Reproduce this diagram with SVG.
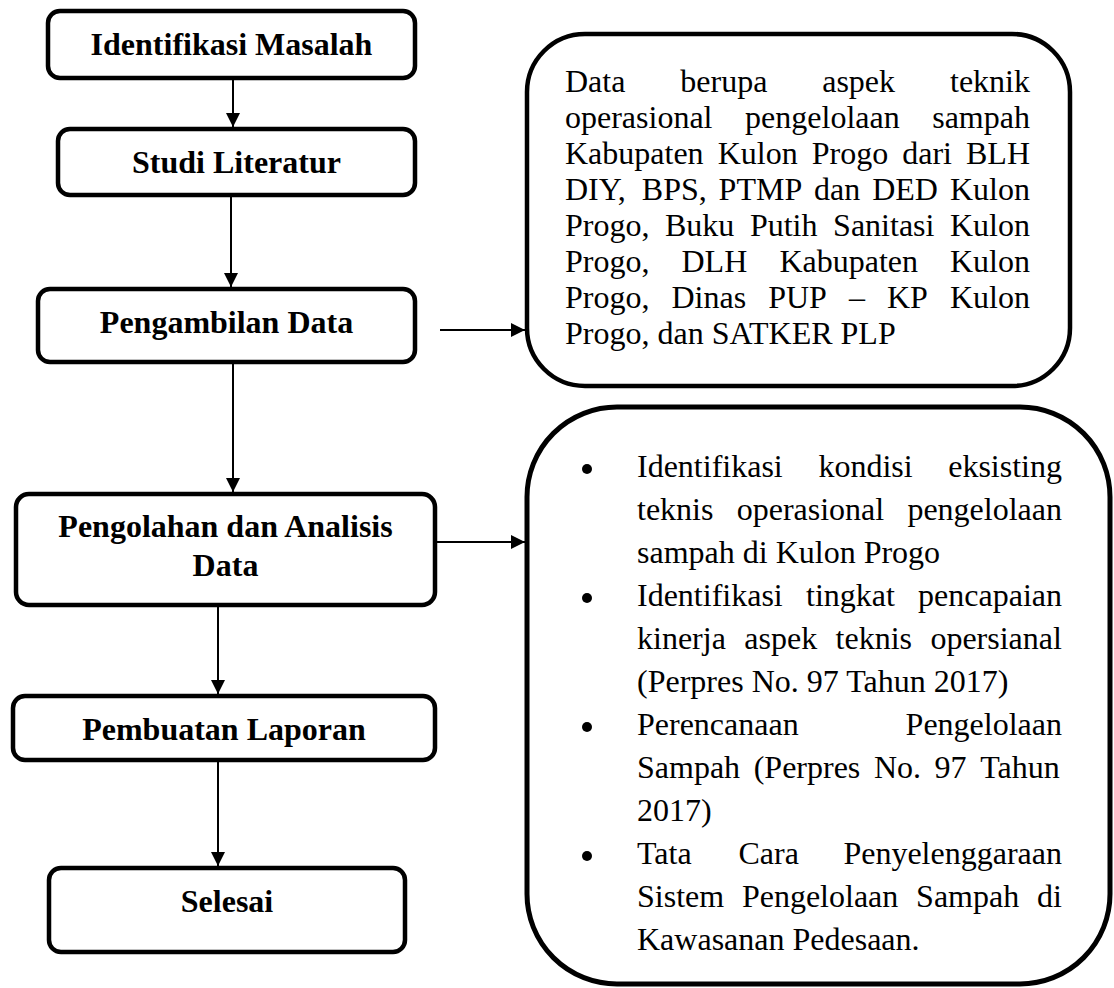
<svg xmlns="http://www.w3.org/2000/svg" width="1114" height="988" viewBox="0 0 1114 988">
<style>
.box{fill:#fff;stroke:#000;stroke-width:4.5}
.big{fill:#fff;stroke:#000;stroke-width:5}
.lbl{font-family:"Liberation Serif","Times New Roman",serif;font-size:32px;font-weight:bold;text-anchor:middle;fill:#000}
.txt{font-family:"Liberation Serif","Times New Roman",serif;font-size:32px;fill:#000}
.dot{fill:#000}
.con{stroke:#000;stroke-width:2;fill:none;marker-end:url(#ah)}
</style>
<defs>
<marker id="ah" markerUnits="userSpaceOnUse" markerWidth="14" markerHeight="14" refX="14" refY="7" orient="auto">
<path d="M0,0 L14,7 L0,14 z" fill="#000"/>
</marker>
</defs>
<rect width="1114" height="988" fill="#fff"/>
<g id="connectors">
<line class="con" x1="233" y1="80" x2="233" y2="127"/>
<line class="con" x1="231" y1="197" x2="231" y2="287"/>
<line class="con" x1="233" y1="364" x2="233" y2="492"/>
<line class="con" x1="218" y1="606" x2="218" y2="694"/>
<line class="con" x1="218" y1="762" x2="218" y2="866"/>
<line class="con" x1="440" y1="330" x2="525" y2="330"/>
<line class="con" x1="437" y1="542" x2="525" y2="542"/>
</g>
<g id="n1"><rect class="box" x="48" y="11" width="367" height="67" rx="12"/><text class="lbl" x="231.5" y="55">Identifikasi Masalah</text></g>
<g id="n2"><rect class="box" x="58" y="129" width="357" height="66" rx="12"/><text class="lbl" x="236.5" y="173">Studi Literatur</text></g>
<g id="n3"><rect class="box" x="38" y="289" width="377" height="73" rx="12"/><text class="lbl" x="226.5" y="333">Pengambilan Data</text></g>
<g id="n4"><rect class="box" x="16" y="494" width="419" height="111" rx="13"/><text class="lbl" x="225.5" y="537">Pengolahan dan Analisis</text><text class="lbl" x="225.5" y="576">Data</text></g>
<g id="n5"><rect class="box" x="13" y="696" width="422" height="64" rx="12"/><text class="lbl" x="224" y="740">Pembuatan Laporan</text></g>
<g id="n6"><rect class="box" x="49" y="868" width="356" height="84" rx="12"/><text class="lbl" x="227" y="912">Selesai</text></g>
<g id="data">
<rect class="box" x="527" y="34" width="543" height="352" rx="58"/>
<text class="txt"><tspan x="565" y="92">Data</tspan><tspan x="680.3" y="92">berupa</tspan><tspan x="822.2" y="92">aspek</tspan><tspan x="950" y="92">teknik</tspan></text>
<text class="txt"><tspan x="565" y="128">operasional</tspan><tspan x="745.1" y="128">pengelolaan</tspan><tspan x="932.2" y="128">sampah</tspan></text>
<text class="txt"><tspan x="565" y="164">Kabupaten</tspan><tspan x="717.7" y="164">Kulon</tspan><tspan x="811.7" y="164">Progo</tspan><tspan x="902.2" y="164">dari</tspan><tspan x="966" y="164">BLH</tspan></text>
<text class="txt"><tspan x="565" y="200">DIY,</tspan><tspan x="641.8" y="200">BPS,</tspan><tspan x="718.6" y="200">PTMP</tspan><tspan x="814.1" y="200">dan</tspan><tspan x="872.2" y="200">DED</tspan><tspan x="950" y="200">Kulon</tspan></text>
<text class="txt"><tspan x="565" y="236">Progo,</tspan><tspan x="665" y="236">Buku</tspan><tspan x="749.9" y="236">Putih</tspan><tspan x="833.1" y="236">Sanitasi</tspan><tspan x="950" y="236">Kulon</tspan></text>
<text class="txt"><tspan x="565" y="272">Progo,</tspan><tspan x="681.5" y="272">DLH</tspan><tspan x="779.4" y="272">Kabupaten</tspan><tspan x="950" y="272">Kulon</tspan></text>
<text class="txt"><tspan x="565" y="308">Progo,</tspan><tspan x="671.5" y="308">Dinas</tspan><tspan x="768.2" y="308">PUP</tspan><tspan x="849" y="308">–</tspan><tspan x="887" y="308">KP</tspan><tspan x="950" y="308">Kulon</tspan></text>
<text class="txt" x="565" y="344">Progo, dan SATKER PLP</text>
</g>
<g id="analisis">
<rect class="big" x="527" y="407" width="583" height="577" rx="90"/>
<circle class="dot" cx="587" cy="469" r="5"/>
<circle class="dot" cx="587" cy="598" r="5"/>
<circle class="dot" cx="587" cy="727" r="5"/>
<circle class="dot" cx="587" cy="856" r="5"/>
<text class="txt"><tspan x="637" y="477">Identifikasi</tspan><tspan x="818.4" y="477">kondisi</tspan><tspan x="948.2" y="477">eksisting</tspan></text>
<text class="txt"><tspan x="637" y="520">teknis</tspan><tspan x="736.7" y="520">operasional</tspan><tspan x="907.4" y="520">pengelolaan</tspan></text>
<text class="txt" x="637" y="563">sampah di Kulon Progo</text>
<text class="txt"><tspan x="637" y="606">Identifikasi</tspan><tspan x="806" y="606">tingkat</tspan><tspan x="918.1" y="606">pencapaian</tspan></text>
<text class="txt"><tspan x="637" y="649">kinerja</tspan><tspan x="744.3" y="649">aspek</tspan><tspan x="835.6" y="649">teknis</tspan><tspan x="930.4" y="649">opersianal</tspan></text>
<text class="txt" x="637" y="692">(Perpres No. 97 Tahun 2017)</text>
<text class="txt"><tspan x="637" y="735">Perencanaan</tspan><tspan x="905.6" y="735">Pengelolaan</tspan></text>
<text class="txt"><tspan x="637" y="778">Sampah</tspan><tspan x="753.7" y="778">(Perpres</tspan><tspan x="873.9" y="778">No.</tspan><tspan x="934.6" y="778">97</tspan><tspan x="980.2" y="778">Tahun</tspan></text>
<text class="txt" x="637" y="821">2017)</text>
<text class="txt"><tspan x="637" y="864">Tata</tspan><tspan x="738.5" y="864">Cara</tspan><tspan x="843.4" y="864">Penyelenggaraan</tspan></text>
<text class="txt"><tspan x="637" y="907">Sistem</tspan><tspan x="741.9" y="907">Pengelolaan</tspan><tspan x="916.1" y="907">Sampah</tspan><tspan x="1037.1" y="907">di</tspan></text>
<text class="txt" x="637" y="950">Kawasanan Pedesaan.</text>
</g>
</svg>
